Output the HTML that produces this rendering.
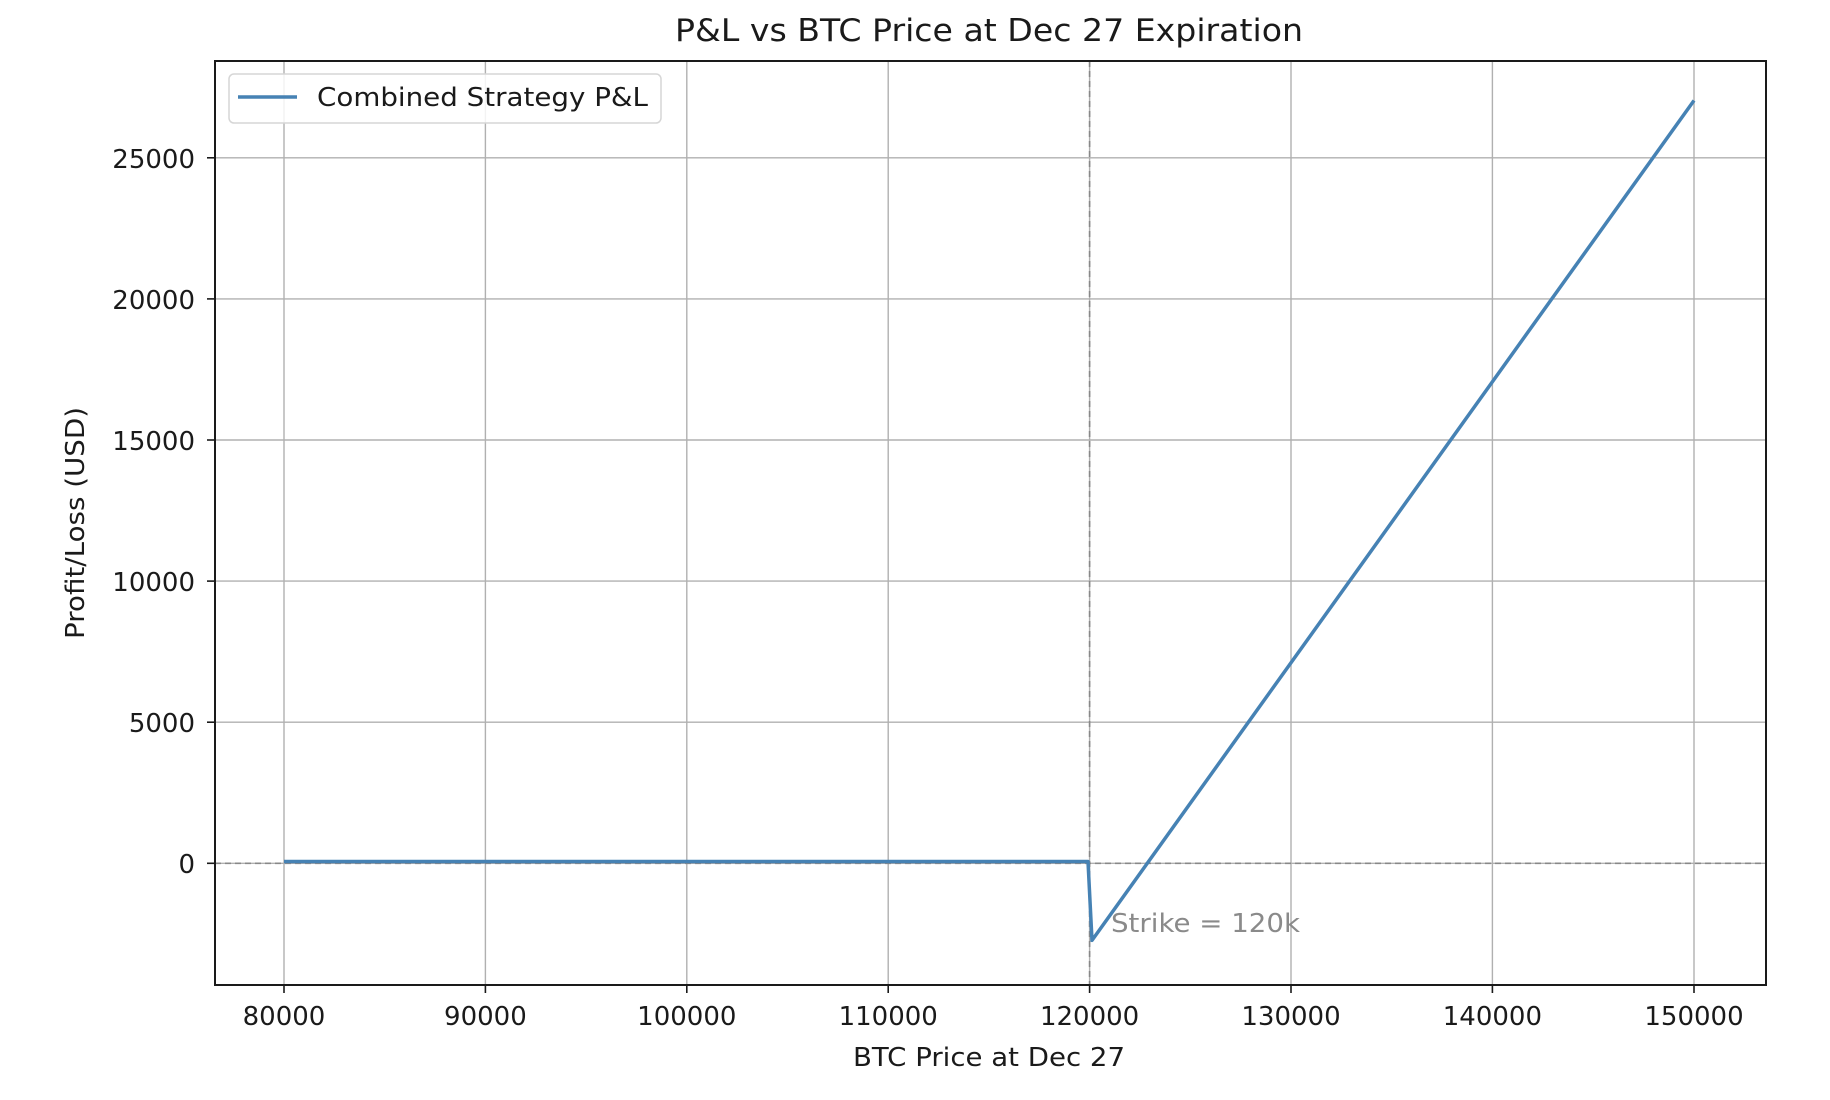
<!DOCTYPE html>
<html><head><meta charset="utf-8"><style>html,body{margin:0;padding:0;background:#fff}svg{display:block}text{font-family:"DejaVu Sans","Liberation Sans",sans-serif;fill:#1a1a1a}</style></head>
<body>
<svg width="1830" height="1100" viewBox="0 0 1830 1100" xmlns="http://www.w3.org/2000/svg">
<rect width="1830" height="1100" fill="#fff"/>
<text x="989" y="41" font-size="31" text-anchor="middle" textLength="628" lengthAdjust="spacingAndGlyphs">P&amp;L vs BTC Price at Dec 27 Expiration</text>
<g stroke="#b0b0b0" stroke-width="1.4">
<line x1="284" y1="61" x2="284" y2="985"/><line x1="485.4" y1="61" x2="485.4" y2="985"/><line x1="686.8" y1="61" x2="686.8" y2="985"/><line x1="888.2" y1="61" x2="888.2" y2="985"/><line x1="1089.6" y1="61" x2="1089.6" y2="985"/><line x1="1291" y1="61" x2="1291" y2="985"/><line x1="1492.4" y1="61" x2="1492.4" y2="985"/><line x1="1694" y1="61" x2="1694" y2="985"/>
<line x1="215" y1="863.3" x2="1766" y2="863.3"/><line x1="215" y1="722.2" x2="1766" y2="722.2"/><line x1="215" y1="581.1" x2="1766" y2="581.1"/><line x1="215" y1="440" x2="1766" y2="440"/><line x1="215" y1="298.9" x2="1766" y2="298.9"/><line x1="215" y1="157.8" x2="1766" y2="157.8"/>
</g>
<g stroke="#888" stroke-width="1.6" stroke-dasharray="6,4">
<line x1="1089.6" y1="61" x2="1089.6" y2="985"/><line x1="215" y1="863.3" x2="1766" y2="863.3"/>
</g>
<polyline fill="none" stroke="#4682b4" stroke-width="3.5" stroke-linejoin="round" points="284,861.5 1088,861.5 1092,940.4 1694,100.5"/>
<text x="1111" y="932" font-size="26" style="fill:#8a8a8a" textLength="189" lengthAdjust="spacingAndGlyphs">Strike = 120k</text>
<rect x="215" y="61" width="1551" height="924" fill="none" stroke="#1a1a1a" stroke-width="2"/>
<rect x="229" y="74" width="432" height="49" rx="5" fill="#fff" fill-opacity="0.85" stroke="#d6d6d6" stroke-width="1.5"/>
<line x1="238" y1="97" x2="297" y2="97" stroke="#4682b4" stroke-width="3.5"/>
<text x="317" y="106" font-size="26" textLength="331" lengthAdjust="spacingAndGlyphs">Combined Strategy P&amp;L</text>
<g stroke="#1a1a1a" stroke-width="1.6">
<line x1="284" y1="985" x2="284" y2="993"/><line x1="485.4" y1="985" x2="485.4" y2="993"/><line x1="686.8" y1="985" x2="686.8" y2="993"/><line x1="888.2" y1="985" x2="888.2" y2="993"/><line x1="1089.6" y1="985" x2="1089.6" y2="993"/><line x1="1291" y1="985" x2="1291" y2="993"/><line x1="1492.4" y1="985" x2="1492.4" y2="993"/><line x1="1694" y1="985" x2="1694" y2="993"/>
<line x1="207" y1="863.3" x2="215" y2="863.3"/><line x1="207" y1="722.2" x2="215" y2="722.2"/><line x1="207" y1="581.1" x2="215" y2="581.1"/><line x1="207" y1="440" x2="215" y2="440"/><line x1="207" y1="298.9" x2="215" y2="298.9"/><line x1="207" y1="157.8" x2="215" y2="157.8"/>
</g>
<g font-size="26" text-anchor="middle">
<text x="284" y="1025">80000</text><text x="485.4" y="1025">90000</text><text x="686.8" y="1025">100000</text><text x="888.2" y="1025">110000</text><text x="1089.6" y="1025">120000</text><text x="1291" y="1025">130000</text><text x="1492.4" y="1025">140000</text><text x="1694" y="1025">150000</text>
</g>
<g font-size="26" text-anchor="end">
<text x="195" y="873">0</text><text x="195" y="732">5000</text><text x="195" y="591">10000</text><text x="195" y="450">15000</text><text x="195" y="309">20000</text><text x="195" y="168">25000</text>
</g>
<text x="989" y="1066" font-size="26" text-anchor="middle" textLength="272" lengthAdjust="spacingAndGlyphs">BTC Price at Dec 27</text>
<text transform="translate(84,523) rotate(-90)" font-size="26" text-anchor="middle" textLength="232" lengthAdjust="spacingAndGlyphs">Profit/Loss (USD)</text>
</svg>
</body></html>
